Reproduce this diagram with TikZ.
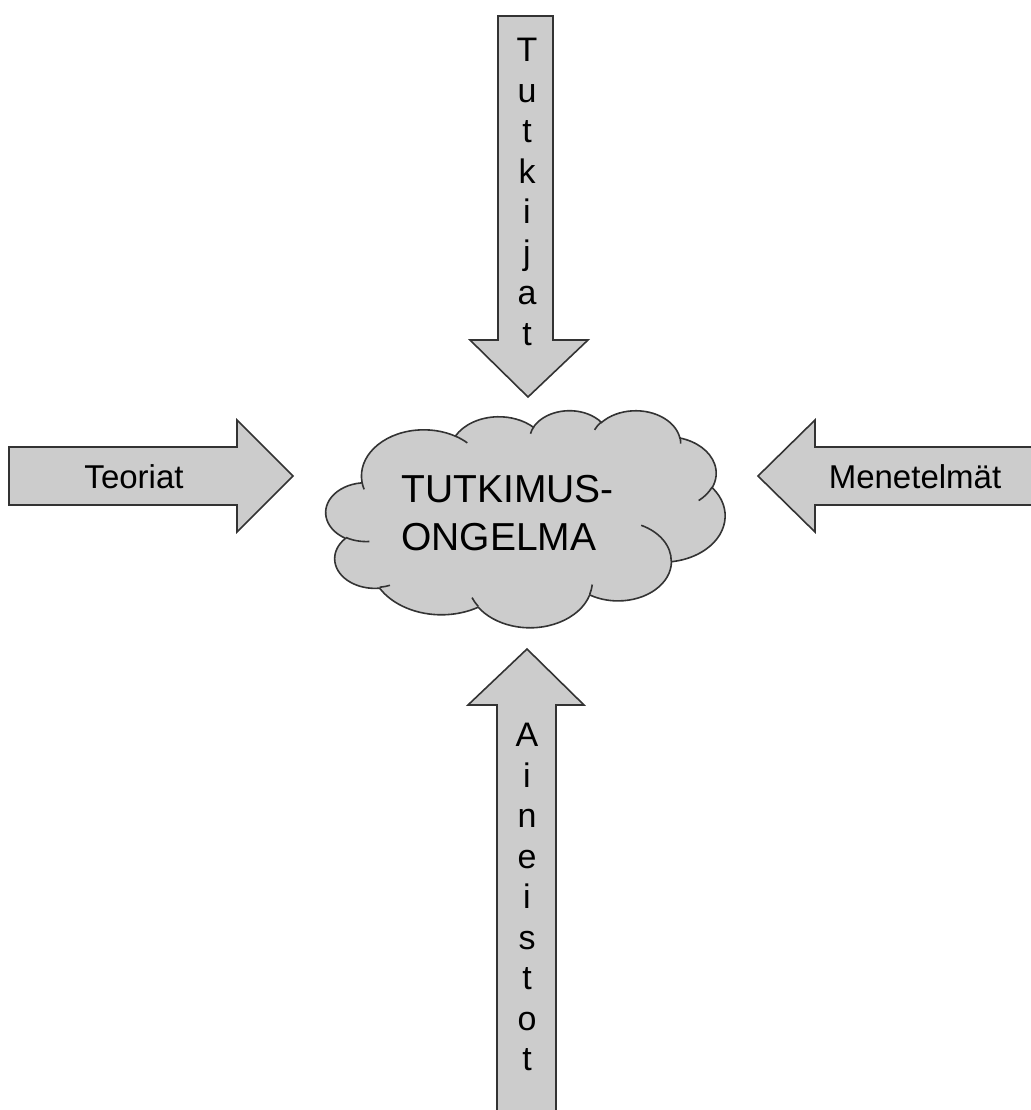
\documentclass[tikz,border=0pt]{standalone}
\usepackage{fontspec}
\setmainfont{Liberation Sans}

\definecolor{arrowfill}{HTML}{CCCCCC}
\definecolor{edgegray}{HTML}{333333}

% one bump of the cloud: x radius, y radius, start angle, sweep (angles as seen on the ellipse)
\newcommand\cloudarc[4]{arc[x radius=#1, y radius=#2, start angle={atan2(#1*sin(#3),#2*cos(#3))}, delta angle={mod(atan2(#1*sin(#3+#4),#2*cos(#3+#4))-atan2(#1*sin(#3),#2*cos(#3))+720,360)}]}

\begin{document}
\begin{tikzpicture}[x=0.5pt, y=-0.5pt,
    blockarrow/.style={draw=edgegray, fill=arrowfill, line width=0.8pt, line join=miter},
    cloudline/.style={draw=edgegray, line width=0.8pt},
    arrowtext/.style={font=\fontsize{16.5}{19.8}\selectfont, inner sep=0pt},
    stacktext/.style={font=\fontsize{17}{20.25}\selectfont, align=center, inner sep=0pt, anchor=north}]
    \useasboundingbox (0,0) rectangle (1031,1110);

    % block arrows
    \draw[blockarrow] (498,16) -- (553,16) -- (553,340) -- (588,340) -- (528,397) -- (470,340) -- (498,340) -- cycle;
    \draw[blockarrow] (497,1125) -- (497,705) -- (468,705) -- (527,649) -- (584,705) -- (556,705) -- (556,1125);
    \draw[blockarrow] (9,447) -- (237,447) -- (237,420) -- (293,476) -- (237,532) -- (237,505) -- (9,505) -- cycle;
    \draw[blockarrow] (1045,447) -- (815,447) -- (815,420) -- (758,476) -- (815,532) -- (815,505) -- (1045,505);

    % cloud
    \begin{scope}[shift={(326,410)}, xscale=9.236, yscale=5.023]
        \draw[cloudline, fill=arrowfill] (3.9,14.37)
            \cloudarc{6.753}{9.19}{-190.48748}{123.78053}
            \cloudarc{5.333}{7.267}{-144.10238}{89.94523}
            \cloudarc{4.365}{5.945}{-145.80792}{99.72302}
            \cloudarc{4.857}{6.595}{-130.98607}{117.24173}
            \cloudarc{5.333}{7.273}{-78.70888}{109.02692}
            \cloudarc{6.775}{9.22}{-46.26725}{130.269}
            \cloudarc{5.785}{7.867}{0.62502}{114.03333}
            \cloudarc{6.752}{9.215}{22.4516}{115.17255}
            \cloudarc{7.72}{10.543}{66.24263}{75.71102}
            \cloudarc{4.36}{5.918}{-274.94208}{146.73557}
            \cloudarc{4.345}{5.945}{-246.8285}{152.51885}
            -- cycle;
        \draw[cloudline]
            (4.693,26.177) \cloudarc{4.345}{5.945}{86.742}{26.4295}
            (6.928,34.899) \cloudarc{4.36}{5.918}{73.61047}{11.44747}
            (16.478,39.09) \cloudarc{6.752}{9.215}{137.62415}{14.0811}
            (28.827,34.751) \cloudarc{6.752}{9.215}{6.45327}{15.99835}
            (34.129,22.954) \cloudarc{5.785}{7.867}{-70.29235}{70.91737}
            (41.798,15.354) \cloudarc{5.333}{7.273}{30.31803}{27.7515}
            (38.324,5.426) \cloudarc{4.857}{6.595}{-13.74433}{14.8589}
            (29.078,3.952) \cloudarc{4.857}{6.595}{-149.18145}{18.19537}
            (22.141,4.72) \cloudarc{4.365}{5.945}{-163.49427}{17.68635}
            (14,5.192) \cloudarc{6.753}{9.19}{-66.70695}{12.31935}
            (4.127,15.789) \cloudarc{6.753}{9.19}{157.65435}{11.85817};
    \end{scope}

    % texts
    \node[font=\fontsize{19.5}{23.85}\selectfont, align=left, inner sep=0pt, anchor=north west] (problem) at (401,475) {TUTKIMUS-\\ONGELMA};
    \node[arrowtext] (teoriat) at (134,477) {Teoriat};
    \node[arrowtext] (menetelmat) at (915,477) {Menetelmät};
    \node[stacktext] (tutkijat) at (527,38) {T\\u\\t\\k\\i\\j\\a\\t};
    \node[stacktext] (aineistot) at (527,723) {A\\i\\n\\e\\i\\s\\t\\o\\t};
\end{tikzpicture}
\end{document}
